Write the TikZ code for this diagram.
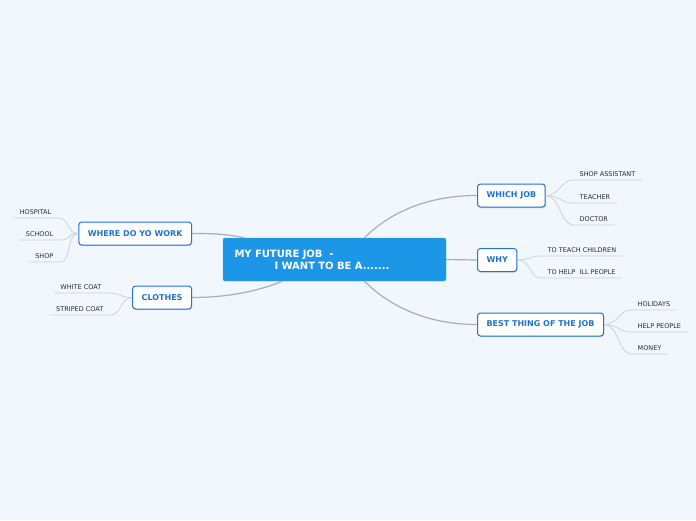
\documentclass[tikz,border=0pt]{standalone}
\usepackage{fontspec}
\setmainfont{DejaVu Sans}
\usetikzlibrary{positioning,shadows}
\definecolor{mapbg}{HTML}{F2F6FD}
\definecolor{mapblue}{HTML}{1C96E6}
\definecolor{topicblue}{HTML}{1E74D2}
\definecolor{linkgray}{HTML}{ABADB8}
\definecolor{leafgray}{HTML}{CDD1DA}
\definecolor{leaftext}{HTML}{2B2B2B}
\tikzset{
  central/.style={fill=mapblue, draw=mapblue!80!white, rounded corners=2pt, text=white, font=\fontsize{10}{12}\selectfont\bfseries, align=left, text width=200pt, inner xsep=11.5pt, minimum height=43pt},
  topic/.style={draw=topicblue, fill=white, line width=1pt, rounded corners=3pt, text=topicblue, font=\fontsize{8}{9}\selectfont\bfseries, minimum height=23pt, inner xsep=9pt, drop shadow={opacity=0.3, shadow xshift=0.6pt, shadow yshift=-1pt}},
  leaf/.style={anchor=south west, text=leaftext, font=\fontsize{6.5}{8}\selectfont, inner xsep=6.5pt, inner ysep=3pt},
  leafl/.style={leaf, anchor=south east},
  link/.style={draw=linkgray, line width=1.2pt},
  twig/.style={draw=leafgray, line width=0.8pt}
}
\begin{document}
\begin{tikzpicture}[x=1pt, y=-1pt]
  \useasboundingbox[fill=mapbg] (0,0) rectangle (696,520);

  \node[central] (job) at (334.5,259.5) {MY FUTURE JOB~~-\\\hspace*{40pt}I WANT TO BE A.......};

  \node[topic, anchor=west] (which) at (477,195.5) {WHICH JOB};
  \node[topic, anchor=west] (why) at (477,260) {WHY};
  \node[topic, anchor=west] (best) at (477,324.5) {BEST THING OF THE JOB};
  \node[topic, anchor=east] (where) at (192,233.5) {WHERE DO YO WORK};
  \node[topic, anchor=east] (clothes) at (192,297.5) {CLOTHES};

  % leaves, right side
  \node[leaf] (assistant) at (573,180) {SHOP ASSISTANT};
  \node[leaf] (teacher) at (573,203) {TEACHER};
  \node[leaf] (doctor) at (573,225) {DOCTOR};
  \node[leaf] (children) at (541,256) {TO TEACH CHILDREN};
  \node[leaf] (ill) at (541,278) {TO HELP~~ILL PEOPLE};
  \node[leaf] (holidays) at (631,310) {HOLIDAYS};
  \node[leaf] (help) at (631,332) {HELP PEOPLE};
  \node[leaf] (money) at (631,354) {MONEY};

  % leaves, left side
  \node[leafl] (hospital) at (58,218) {HOSPITAL};
  \node[leafl] (school) at (60,240) {SCHOOL};
  \node[leafl] (shop) at (60,262) {SHOP};
  \node[leafl] (white) at (108,293) {WHITE COAT};
  \node[leafl] (striped) at (110,315) {STRIPED COAT};

  \draw[link] ([xshift=30pt]job.north) .. controls +(25,-25) and +(-50,0) .. (which.west);
  \draw[link] (job.east) -- (why.west);
  \draw[link] ([xshift=30pt]job.south) .. controls +(25,25) and +(-50,0) .. (best.west);
  \draw[link] ([xshift=-90pt]job.north) .. controls +(-20,-4) and +(20,0) .. (where.east);
  \draw[link] ([xshift=-52pt]job.south) .. controls +(-30,12) and +(30,0) .. (clothes.east);

  \draw[twig] (which.east) .. controls +(14,0) and +(-12,0) .. (assistant.south west) -- (assistant.south east);
  \draw[twig] (which.east) .. controls +(14,0) and +(-12,0) .. (teacher.south west) -- (teacher.south east);
  \draw[twig] (which.east) .. controls +(14,0) and +(-12,0) .. (doctor.south west) -- (doctor.south east);
  \draw[twig] (why.east) .. controls +(14,0) and +(-12,0) .. (children.south west) -- (children.south east);
  \draw[twig] (why.east) .. controls +(14,0) and +(-12,0) .. (ill.south west) -- (ill.south east);
  \draw[twig] (best.east) .. controls +(14,0) and +(-12,0) .. (holidays.south west) -- (holidays.south east);
  \draw[twig] (best.east) .. controls +(14,0) and +(-12,0) .. (help.south west) -- (help.south east);
  \draw[twig] (best.east) .. controls +(14,0) and +(-12,0) .. (money.south west) -- (money.south east);
  \draw[twig] (where.west) .. controls +(-12,0) and +(12,0) .. (hospital.south east) -- (hospital.south west);
  \draw[twig] (where.west) .. controls +(-12,0) and +(12,0) .. (school.south east) -- (school.south west);
  \draw[twig] (where.west) .. controls +(-12,0) and +(12,0) .. (shop.south east) -- (shop.south west);
  \draw[twig] (clothes.west) .. controls +(-12,0) and +(12,0) .. (white.south east) -- (white.south west);
  \draw[twig] (clothes.west) .. controls +(-12,0) and +(12,0) .. (striped.south east) -- (striped.south west);
\end{tikzpicture}
\end{document}
